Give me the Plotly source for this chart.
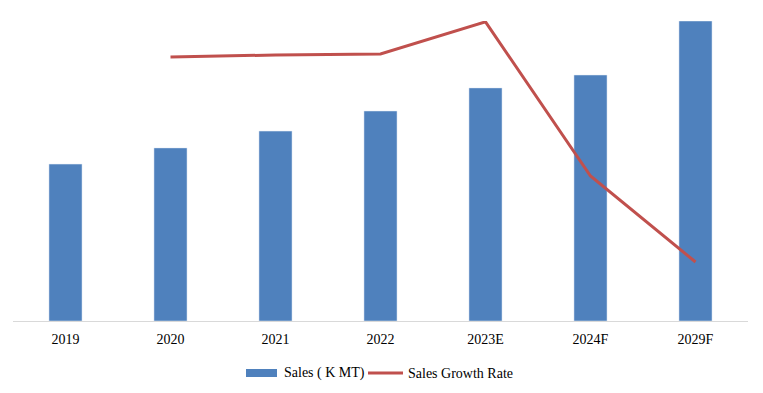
import plotly.graph_objects as go

categories = ["2019", "2020", "2021", "2022", "2023E", "2024F", "2029F"]
sales = [52.3, 57.7, 63.3, 70.0, 77.7, 82.0, 100.0]
growth_categories = ["2020", "2021", "2022", "2023E", "2024F", "2029F"]
growth_rate = [9.71, 9.78, 9.82, 11.0, 5.33, 2.17]
legend_labels = ["Sales ( K MT)", "Sales Growth Rate"]

BAR = "#4F81BD"
LINE = "#C0504D"
FONT = "Liberation Serif"

OFF = 8  # page body offset
W, H = 755, 385
L, R, T, B = 13 - OFF, 15, 21 - OFF, 72
pw, ph = W - L - R, H - T - B

def px(x):
    return (x - OFF - L) / pw

def py(y):
    return (H - B - (y - OFF)) / ph

fig = go.Figure()
fig.add_trace(go.Bar(x=categories, y=sales, marker_color=BAR, width=0.315,
                     name=legend_labels[0], showlegend=False))
fig.add_trace(go.Scatter(x=growth_categories, y=growth_rate, mode="lines",
                         line=dict(color=LINE, width=3), yaxis="y2",
                         name=legend_labels[1], showlegend=False))

shapes = [
    dict(type="rect", xref="paper", yref="paper", x0=px(246), x1=px(277),
         y0=py(377), y1=py(369), fillcolor=BAR, line=dict(width=0)),
    dict(type="line", xref="paper", yref="paper", x0=px(368), x1=px(403),
         y0=py(373), y1=py(373), line=dict(color=LINE, width=3)),
]
annotations = [
    dict(text=legend_labels[0], xref="paper", yref="paper", x=px(282), y=py(373),
         xanchor="left", yanchor="middle", showarrow=False,
         font=dict(family=FONT, size=14, color="#000")),
    dict(text=legend_labels[1], xref="paper", yref="paper", x=px(406), y=py(373),
         xanchor="left", yanchor="middle", showarrow=False,
         font=dict(family=FONT, size=14, color="#000")),
]

fig.update_layout(
    width=W, height=H,
    margin=dict(l=L, r=R, t=T, b=B),
    paper_bgcolor="white", plot_bgcolor="white",
    showlegend=False,
    shapes=shapes, annotations=annotations,
    xaxis=dict(categoryorder="array", categoryarray=categories,
               showline=True, linecolor="#D9D9D9", linewidth=1,
               showgrid=False, ticks="", zeroline=False,
               ticklabelstandoff=5,
               tickfont=dict(family=FONT, size=14, color="#000")),
    yaxis=dict(range=[0, 100], visible=False, showgrid=False, zeroline=False),
    yaxis2=dict(range=[0, 11.03], overlaying="y", visible=False,
                showgrid=False, zeroline=False),
)

fig.write_html("out.html")
